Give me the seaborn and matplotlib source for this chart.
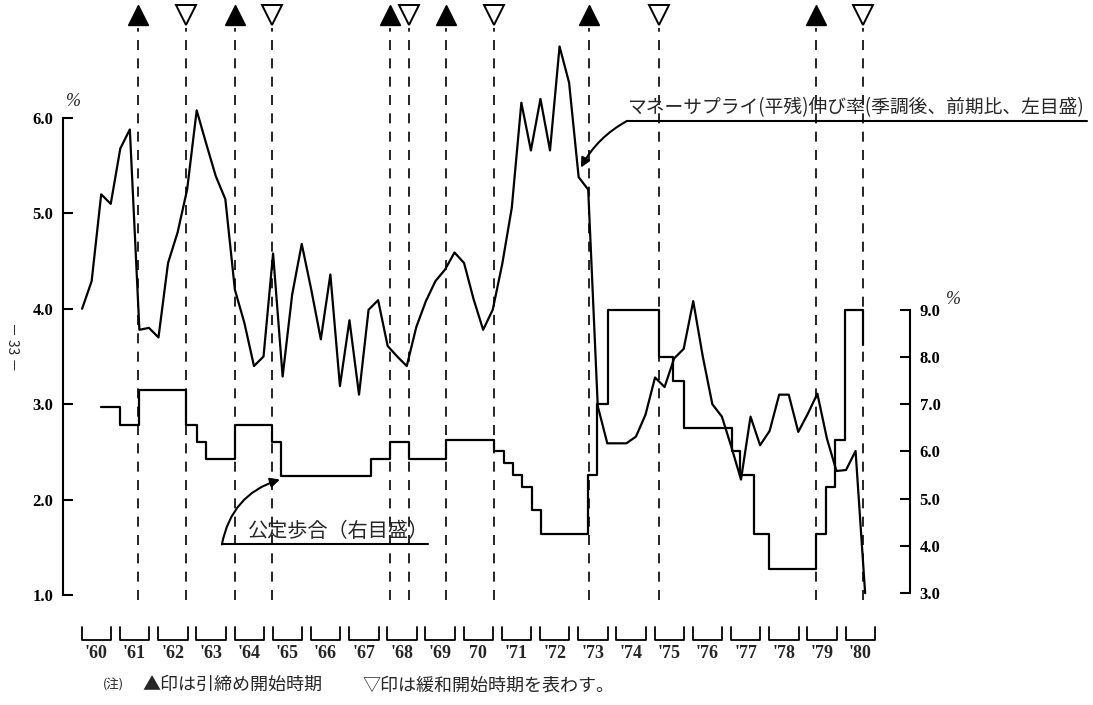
import numpy as np
import pandas as pd
import matplotlib
matplotlib.use("Agg")
import matplotlib.pyplot as plt
import seaborn as sns

# --- values ---
quarters = pd.period_range("1960Q1", "1980Q3", freq="Q")
# money supply growth (avg. balance, s.a., q/q %), left scale
money_supply = [4.00, 4.29, 5.20, 5.10, 5.68, 5.88, 3.78, 3.80, 3.70, 4.48,
                4.80, 5.25, 6.08, 5.73, 5.39, 5.15, 4.20, 3.85, 3.40, 3.50,
                4.58, 3.29, 4.15, 4.68, 4.20, 3.68, 4.36, 3.19, 3.88, 3.10,
                3.99, 4.09, 3.61, 3.50, 3.40, 3.81, 4.08, 4.29, 4.41, 4.59,
                4.48, 4.10, 3.78, 3.99, 4.47, 5.06, 6.16, 5.66, 6.20, 5.66,
                6.75, 6.37, 5.38, 5.25, 2.98, 2.59, 2.59, 2.59, 2.66, 2.89,
                3.28, 3.18, 3.48, 3.58, 4.08, 3.50, 3.00, 2.87, 2.55, 2.21,
                2.87, 2.57, 2.72, 3.10, 3.10, 2.71, 2.90, 3.11, 2.64, 2.30,
                2.31, 2.51, 1.02]
# official discount rate, right scale (date of change, new rate)
rate_dates = [1960.50, 1961.00, 1961.50, 1962.72, 1963.00, 1963.25, 1964.00,
              1964.97, 1965.21, 1967.57, 1968.06, 1968.56, 1969.53, 1970.79,
              1971.05, 1971.27, 1971.51, 1971.77, 1972.02, 1973.25, 1973.49,
              1973.78, 1975.11, 1975.48, 1975.76, 1977.02, 1977.23, 1977.59,
              1977.98, 1979.21, 1979.47, 1979.71, 1979.97, 1980.45]
discount_rate = [6.94, 6.57, 7.30, 6.57, 6.21, 5.84, 6.57, 6.21, 5.48, 5.84,
                 6.21, 5.84, 6.25, 6.00, 5.75, 5.50, 5.25, 4.75, 4.25, 5.50,
                 7.00, 9.00, 8.00, 7.50, 6.50, 6.00, 5.50, 4.25, 3.50, 4.25,
                 5.25, 6.25, 9.00, 8.25]
tight_dates = [1961.47, 1963.99, 1968.06, 1969.53, 1973.27, 1979.21]
ease_dates = [1962.72, 1964.97, 1968.56, 1970.79, 1975.11, 1980.45]
years = list(range(1960, 1981))
year_labels = ["'60", "'61", "'62", "'63", "'64", "'65", "'66", "'67", "'68",
               "'69", "70", "'71", "'72", "'73", "'74", "'75", "'76", "'77",
               "'78", "'79", "'80"]
left_ticks = [1, 2, 3, 4, 5, 6]
right_ticks = [3, 4, 5, 6, 7, 8, 9]

df_money = pd.DataFrame({"t": quarters.year + (quarters.quarter - 1) / 4,
                         "growth": money_supply})
df_rate = pd.DataFrame({"t": rate_dates, "rate": discount_rate})

sns.set_style("white")
plt.rcParams["font.family"] = ["Noto Sans CJK JP", "DejaVu Sans"]
num_font = dict(fontfamily="Liberation Serif", fontweight="bold")

fig = plt.figure(figsize=(10.93, 7.05), dpi=100)
ax = fig.add_axes([63 / 1093, 110 / 705, 847 / 1093, 477 / 705])
ax2 = ax.twinx()

sns.lineplot(data=df_money, x="t", y="growth", ax=ax, color="black", lw=1.6)
sns.lineplot(data=df_rate, x="t", y="rate", ax=ax2, color="black", lw=1.6,
             drawstyle="steps-post")
# money supply peaks rise above the 6.0 tick, so let them show
for ln in ax.lines + ax2.lines:
    ln.set_clip_on(False)

ax.set_xlim(1959.50, 1981.675)
ax.set_ylim(1, 6)
ax2.set_ylim(2.958, 13.068)
for a in (ax, ax2):
    a.set_xlabel("")
    a.set_ylabel("")
    for s in a.spines.values():
        s.set_visible(False)
ax.set_xticks([])
ax.spines["left"].set_visible(True)
ax.spines["left"].set_bounds(1, 6)
ax.spines["left"].set_color("black")
ax.spines["left"].set_linewidth(1.5)
ax2.spines["right"].set_visible(True)
ax2.spines["right"].set_bounds(3, 9)
ax2.spines["right"].set_color("black")
ax2.spines["right"].set_linewidth(1.5)

ax.set_yticks(left_ticks, [f"{v:.1f}" for v in left_ticks], fontsize=12, **num_font)
ax2.set_yticks(right_ticks, [f"{v:.1f}" for v in right_ticks], fontsize=12, **num_font)
ax.tick_params(axis="y", left=True, direction="in", length=7, width=1.5, pad=7, colors="black")
ax2.tick_params(axis="y", right=True, direction="in", length=7, width=1.5, pad=7, colors="black")

# policy turning points
ax.vlines(tight_dates + ease_dates, 0.95, 6.94, colors="black",
          linestyles=(0, (6, 5)), lw=1.2, clip_on=False)
ax.plot(tight_dates, [7.08] * len(tight_dates), ls="none", marker="^", ms=14,
        color="black", clip_on=False)
ax.plot(ease_dates, [7.08] * len(ease_dates), ls="none", marker="v", ms=14,
        mfc="white", mec="black", mew=1.4, clip_on=False)

# year brackets under the plot
for y, lab in zip(years, year_labels):
    x0, x1 = y - 0.01, y + 0.76
    ax.plot([x0, x0, x1, x1], [0.665, 0.53, 0.53, 0.665], color="black",
            lw=1.3, clip_on=False)
    ax.text((x0 + x1) / 2, 0.39, lab, ha="center", va="center", fontsize=13,
            **num_font)

# annotations
ax.text(1974.27, 6.0, "マネーサプライ(平残)伸び率(季調後、前期比、左目盛)",
        fontsize=13.5, ha="left", va="bottom")
ax.plot([1974.27, 1986.3], [5.97, 5.97], color="black", lw=1.5, clip_on=False)
ax.annotate("", xy=(1973.06, 5.48), xytext=(1974.27, 5.97),
            arrowprops=dict(arrowstyle="-|>", color="black", lw=1.5,
                            connectionstyle="arc3,rad=0.15", mutation_scale=14,
                            shrinkA=0, shrinkB=0), annotation_clip=False)

ax.text(1964.35, 1.56, "公定歩合（右目盛）", fontsize=14.5, ha="left", va="bottom")
ax.plot([1963.66, 1969.06], [1.53, 1.53], color="black", lw=1.5, clip_on=False)
ax.annotate("", xy=(1965.18, 2.21), xytext=(1963.66, 1.53),
            arrowprops=dict(arrowstyle="-|>", color="black", lw=1.5,
                            connectionstyle="arc3,rad=-0.3", mutation_scale=14,
                            shrinkA=0, shrinkB=0), annotation_clip=False)

fig.text(66 / 1093, 1 - 102 / 705, "%", fontsize=13, fontstyle="italic",
         fontfamily="Liberation Serif", va="center")
fig.text(946 / 1093, 1 - 300 / 705, "%", fontsize=13, fontstyle="italic",
         fontfamily="Liberation Serif", va="center")

fig.text(103 / 1093, 1 - 685 / 705, "(注)", fontsize=9, va="center")
fig.text(142 / 1093, 1 - 685 / 705, "▲印は引締め開始時期", fontsize=13, va="center")
fig.text(362 / 1093, 1 - 685 / 705, "▽印は緩和開始時期を表わす。", fontsize=13, va="center")
fig.text(12 / 1093, 1 - 347 / 705, "－ 33 －", rotation=-90, fontsize=10,
         ha="center", va="center")

fig.savefig("out.png", dpi=100)
